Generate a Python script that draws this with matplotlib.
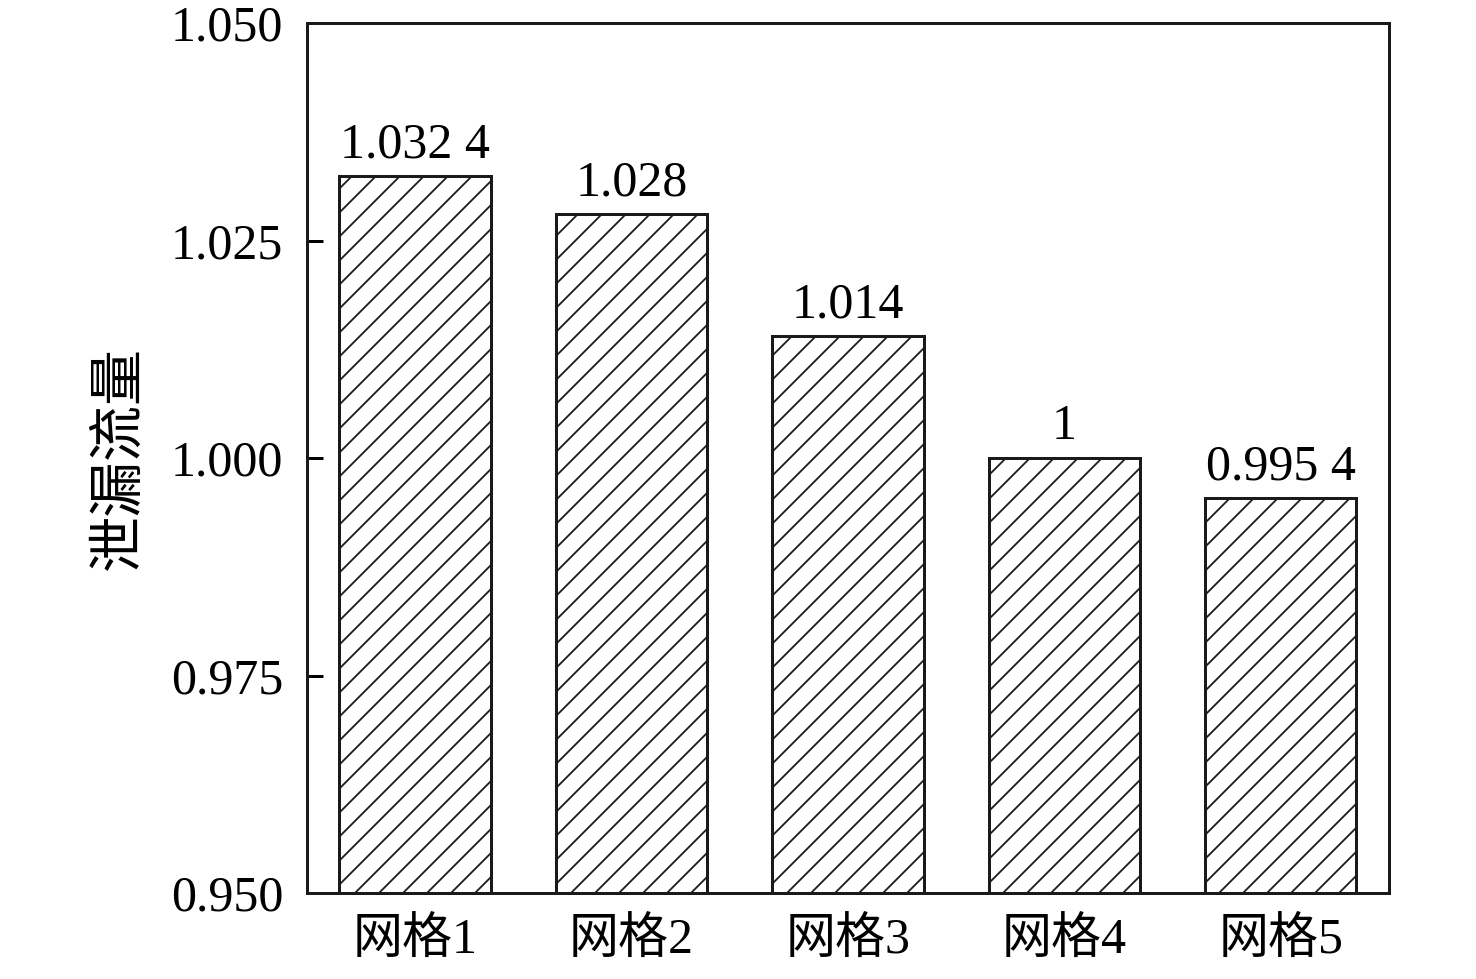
import numpy as np
import matplotlib
matplotlib.use("Agg")
import matplotlib.pyplot as plt

# Data
grids = ["网格1", "网格2", "网格3", "网格4", "网格5"]
leakage = [1.0324, 1.028, 1.014, 1.0, 0.9954]
value_labels = ["1.032 4", "1.028", "1.014", "1", "0.995 4"]
yticks = [0.950, 0.975, 1.000, 1.025, 1.050]

plt.rcParams['font.family'] = ['Liberation Serif', 'Noto Sans CJK SC']
plt.rcParams['hatch.linewidth'] = 0.9

fig = plt.figure(figsize=(1476 / 144, 979 / 144), dpi=144)
ax = fig.add_axes([0.208, 0.0878, 0.733, 0.8887])

x = np.arange(len(grids))
bars = ax.bar(x, leakage, width=0.7, bottom=0, color="white",
              edgecolor="#1a1a1a", linewidth=1.5, hatch="//")

# Value labels above each bar
for xi, v, lab in zip(x, leakage, value_labels):
    ax.text(xi, v + 0.0009, lab, ha="center", va="bottom", fontsize=25)

ax.set_xlim(-0.5, 4.5)
ax.set_ylim(0.950, 1.050)
ax.set_yticks(yticks)
ax.set_yticklabels(["{:.3f}".format(t) for t in yticks])
ax.set_xticks(x)
ax.set_xticklabels(grids)

ax.tick_params(axis="y", direction="in", length=8, width=1.5, pad=12, labelsize=25)
ax.tick_params(axis="x", length=0, pad=12, labelsize=25)

for sp in ax.spines.values():
    sp.set_linewidth(1.5)
    sp.set_color("#1a1a1a")

ax.set_ylabel("泄漏流量", fontsize=28, labelpad=12)

plt.savefig("out.png", dpi=144)
